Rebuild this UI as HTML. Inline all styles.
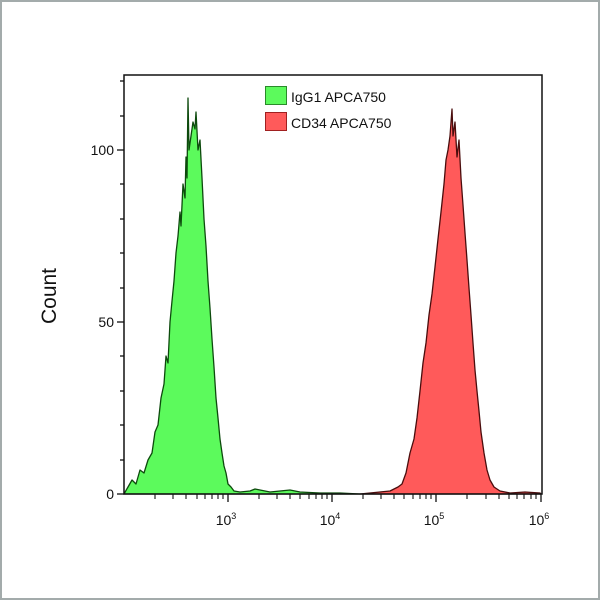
<!DOCTYPE html>
<html><head><meta charset="utf-8"><style>
html,body{margin:0;padding:0;background:#fff}
.frame{position:absolute;left:0;top:0;width:596px;height:596px;border:2px solid #a3abab;background:#fff}
svg{position:absolute;left:0;top:0}
text{font-family:"Liberation Sans",sans-serif;fill:#111}
</style></head><body>
<div class="frame"></div>
<svg width="600" height="600" viewBox="0 0 600 600">
<!-- green -->
<polygon fill="#5cfa5c" stroke="#0d4a0d" stroke-width="1.3" stroke-linejoin="round" points="124,494 128,487 132,480 136,484 140,470 144,473 148,460 152,453 155,432 158,425 161,398 164,384 166,356 168,363 170,322 172,301 174,281 176,253 178,236 180,212 181,226 183,184 185,198 186,157 187,178 188,98 189,150 191,136 193,122 195,129 196,112 198,150 200,140 202,178 204,219 206,246 208,281 210,308 212,339 214,367 216,398 218,418 220,439 222,453 224,466 226,473 228,484 231,487 234,491 240,492 250,491 255,489 260,490 270,492 280,491 290,490 300,492 320,493 340,493 360,494"/>
<!-- red -->
<polygon fill="#ff5a5a" stroke="#4a0d0d" stroke-width="1.3" stroke-linejoin="round" points="360,494 380,492 390,491 398,487 402,484 406,473 410,453 414,439 417,418 420,391 423,363 426,343 429,315 432,294 435,267 438,239 441,212 444,184 446,160 448,150 450,136 452,109 453,136 455,122 457,157 459,140 461,178 463,205 465,233 467,260 469,288 471,315 473,343 475,370 477,391 479,411 481,432 484,453 487,470 490,480 494,487 500,491 510,493 525,492 540,493 541,494"/>
<!-- axes box -->
<rect x="124" y="75" width="418" height="419" fill="none" stroke="#111" stroke-width="1.5"/>
<!-- y ticks -->
<g stroke="#111" stroke-width="1.3">
<line x1="117" y1="494" x2="124" y2="494"/><line x1="117" y1="322" x2="124" y2="322"/><line x1="117" y1="150" x2="124" y2="150"/>
<line x1="120" y1="460" x2="124" y2="460"/><line x1="120" y1="425" x2="124" y2="425"/><line x1="120" y1="391" x2="124" y2="391"/><line x1="120" y1="356" x2="124" y2="356"/>
<line x1="120" y1="288" x2="124" y2="288"/><line x1="120" y1="253" x2="124" y2="253"/><line x1="120" y1="219" x2="124" y2="219"/><line x1="120" y1="184" x2="124" y2="184"/>
<line x1="120" y1="116" x2="124" y2="116"/><line x1="120" y1="81" x2="124" y2="81"/>
<!-- x major -->
<line x1="228" y1="494" x2="228" y2="502"/><line x1="332" y1="494" x2="332" y2="502"/><line x1="436" y1="494" x2="436" y2="502"/><line x1="541" y1="494" x2="541" y2="502"/>
</g>
<g stroke="#111" stroke-width="1.1" id="minor">
<line x1="155" y1="494" x2="155" y2="499"/><line x1="173" y1="494" x2="173" y2="499"/><line x1="186" y1="494" x2="186" y2="499"/><line x1="197" y1="494" x2="197" y2="499"/><line x1="205" y1="494" x2="205" y2="499"/><line x1="212" y1="494" x2="212" y2="499"/><line x1="218" y1="494" x2="218" y2="499"/><line x1="223" y1="494" x2="223" y2="499"/>
<line x1="259" y1="494" x2="259" y2="499"/><line x1="277" y1="494" x2="277" y2="499"/><line x1="290" y1="494" x2="290" y2="499"/><line x1="300" y1="494" x2="300" y2="499"/><line x1="309" y1="494" x2="309" y2="499"/><line x1="316" y1="494" x2="316" y2="499"/><line x1="322" y1="494" x2="322" y2="499"/><line x1="327" y1="494" x2="327" y2="499"/>
<line x1="363" y1="494" x2="363" y2="499"/><line x1="381" y1="494" x2="381" y2="499"/><line x1="394" y1="494" x2="394" y2="499"/><line x1="404" y1="494" x2="404" y2="499"/><line x1="413" y1="494" x2="413" y2="499"/><line x1="420" y1="494" x2="420" y2="499"/><line x1="426" y1="494" x2="426" y2="499"/><line x1="431" y1="494" x2="431" y2="499"/>
<line x1="467" y1="494" x2="467" y2="499"/><line x1="486" y1="494" x2="486" y2="499"/><line x1="499" y1="494" x2="499" y2="499"/><line x1="509" y1="494" x2="509" y2="499"/><line x1="517" y1="494" x2="517" y2="499"/><line x1="524" y1="494" x2="524" y2="499"/><line x1="531" y1="494" x2="531" y2="499"/><line x1="536" y1="494" x2="536" y2="499"/>
</g>
<g font-size="14" text-anchor="end">
<text x="114" y="499">0</text><text x="114" y="327">50</text><text x="114" y="155">100</text>
</g>
<g font-size="14" text-anchor="middle">
<text x="226" y="525">10<tspan font-size="9" dy="-6">3</tspan></text>
<text x="330" y="525">10<tspan font-size="9" dy="-6">4</tspan></text>
<text x="434" y="525">10<tspan font-size="9" dy="-6">5</tspan></text>
<text x="539" y="525">10<tspan font-size="9" dy="-6">6</tspan></text>
</g>
<text transform="translate(56,296) rotate(-90)" font-size="21" text-anchor="middle">Count</text>
<!-- legend -->
<rect x="265.5" y="86.5" width="21" height="18" fill="#5cfa5c" stroke="#2a8a2a"/>
<rect x="265.5" y="112.5" width="21" height="18" fill="#ff5a5a" stroke="#a02020"/>
<text x="291" y="102" font-size="14">IgG1 APCA750</text>
<text x="291" y="128" font-size="14">CD34 APCA750</text>
</svg>
</body></html>
